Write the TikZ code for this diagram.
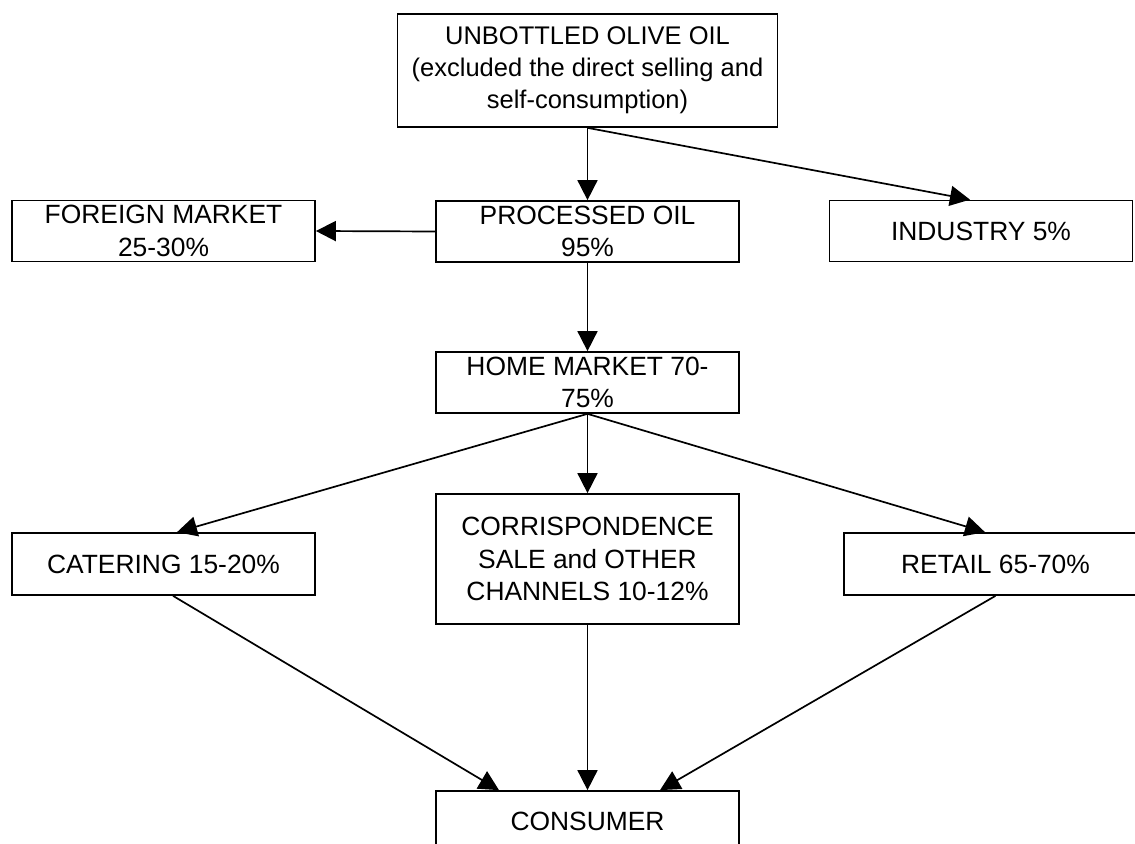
\documentclass[tikz,border=0pt]{standalone}
\usepackage{fontspec}
\setmainfont{Liberation Sans}
\usetikzlibrary{arrows.meta}
\begin{document}
\begin{tikzpicture}[x=0.5pt,y=0.5pt,
  box/.style={draw, line width=0.85pt, inner sep=0pt, align=center,
    minimum width=151.5pt, minimum height=30.5pt,
    font=\fontsize{13.2pt}{16.25pt}\selectfont},
  flow/.style={-{Triangle[length=10pt,width=10pt]}, line width=0.85pt}]
\useasboundingbox (0,0) rectangle (1135,-844);
\fill[white] (0,0) rectangle (1135,-844);
\clip (0,0) rectangle (1135,-844);

% boxes of the distribution chain
\node[box, minimum width=190pt, minimum height=56.5pt,
      font=\fontsize{12.75pt}{16pt}\selectfont] (src) at (587.5,-70.5)
  {UNBOTTLED OLIVE OIL\\(excluded the direct selling and\\self-consumption)};
\node[box] (proc) at (587.5,-231.5) {PROCESSED OIL\\95\%};
\node[box] (foreign) at (163.5,-231) {FOREIGN MARKET\\25-30\%};
\node[box] (ind) at (981,-231) {INDUSTRY 5\%};
\node[box] (home) at (587.5,-382.5) {HOME MARKET 70-\\75\%};
\node[box, minimum height=31pt] (cat) at (163.5,-564) {CATERING 15-20\%};
\node[box, minimum height=65pt] (corr) at (587.5,-559)
  {CORRISPONDENCE\\SALE and OTHER\\CHANNELS 10-12\%};
\node[box, minimum height=31pt] (ret) at (995.5,-564) {RETAIL 65-70\%};
\node[box] (cons) at (587.5,-821.5) {CONSUMER};

% flows
\draw[flow] (src.south) -- (proc.north);
\draw[flow] (src.south) -- ([xshift=-5.5pt]ind.north);
\draw[flow] (proc.west) -- (foreign.east);
\draw[flow] (proc.south) -- (home.north);
\draw[flow] (home.south) -- ([xshift=6.75pt]cat.north);
\draw[flow] (home.south) -- (corr.north);
\draw[flow] (home.south) -- ([xshift=-5.25pt]ret.north);
\draw[flow] ([xshift=4.75pt]cat.south) -- ([xshift=-44.25pt]cons.north);
\draw[flow] (corr.south) -- (cons.north);
\draw[flow] (ret.south) -- ([xshift=36.25pt]cons.north);
\end{tikzpicture}
\end{document}
